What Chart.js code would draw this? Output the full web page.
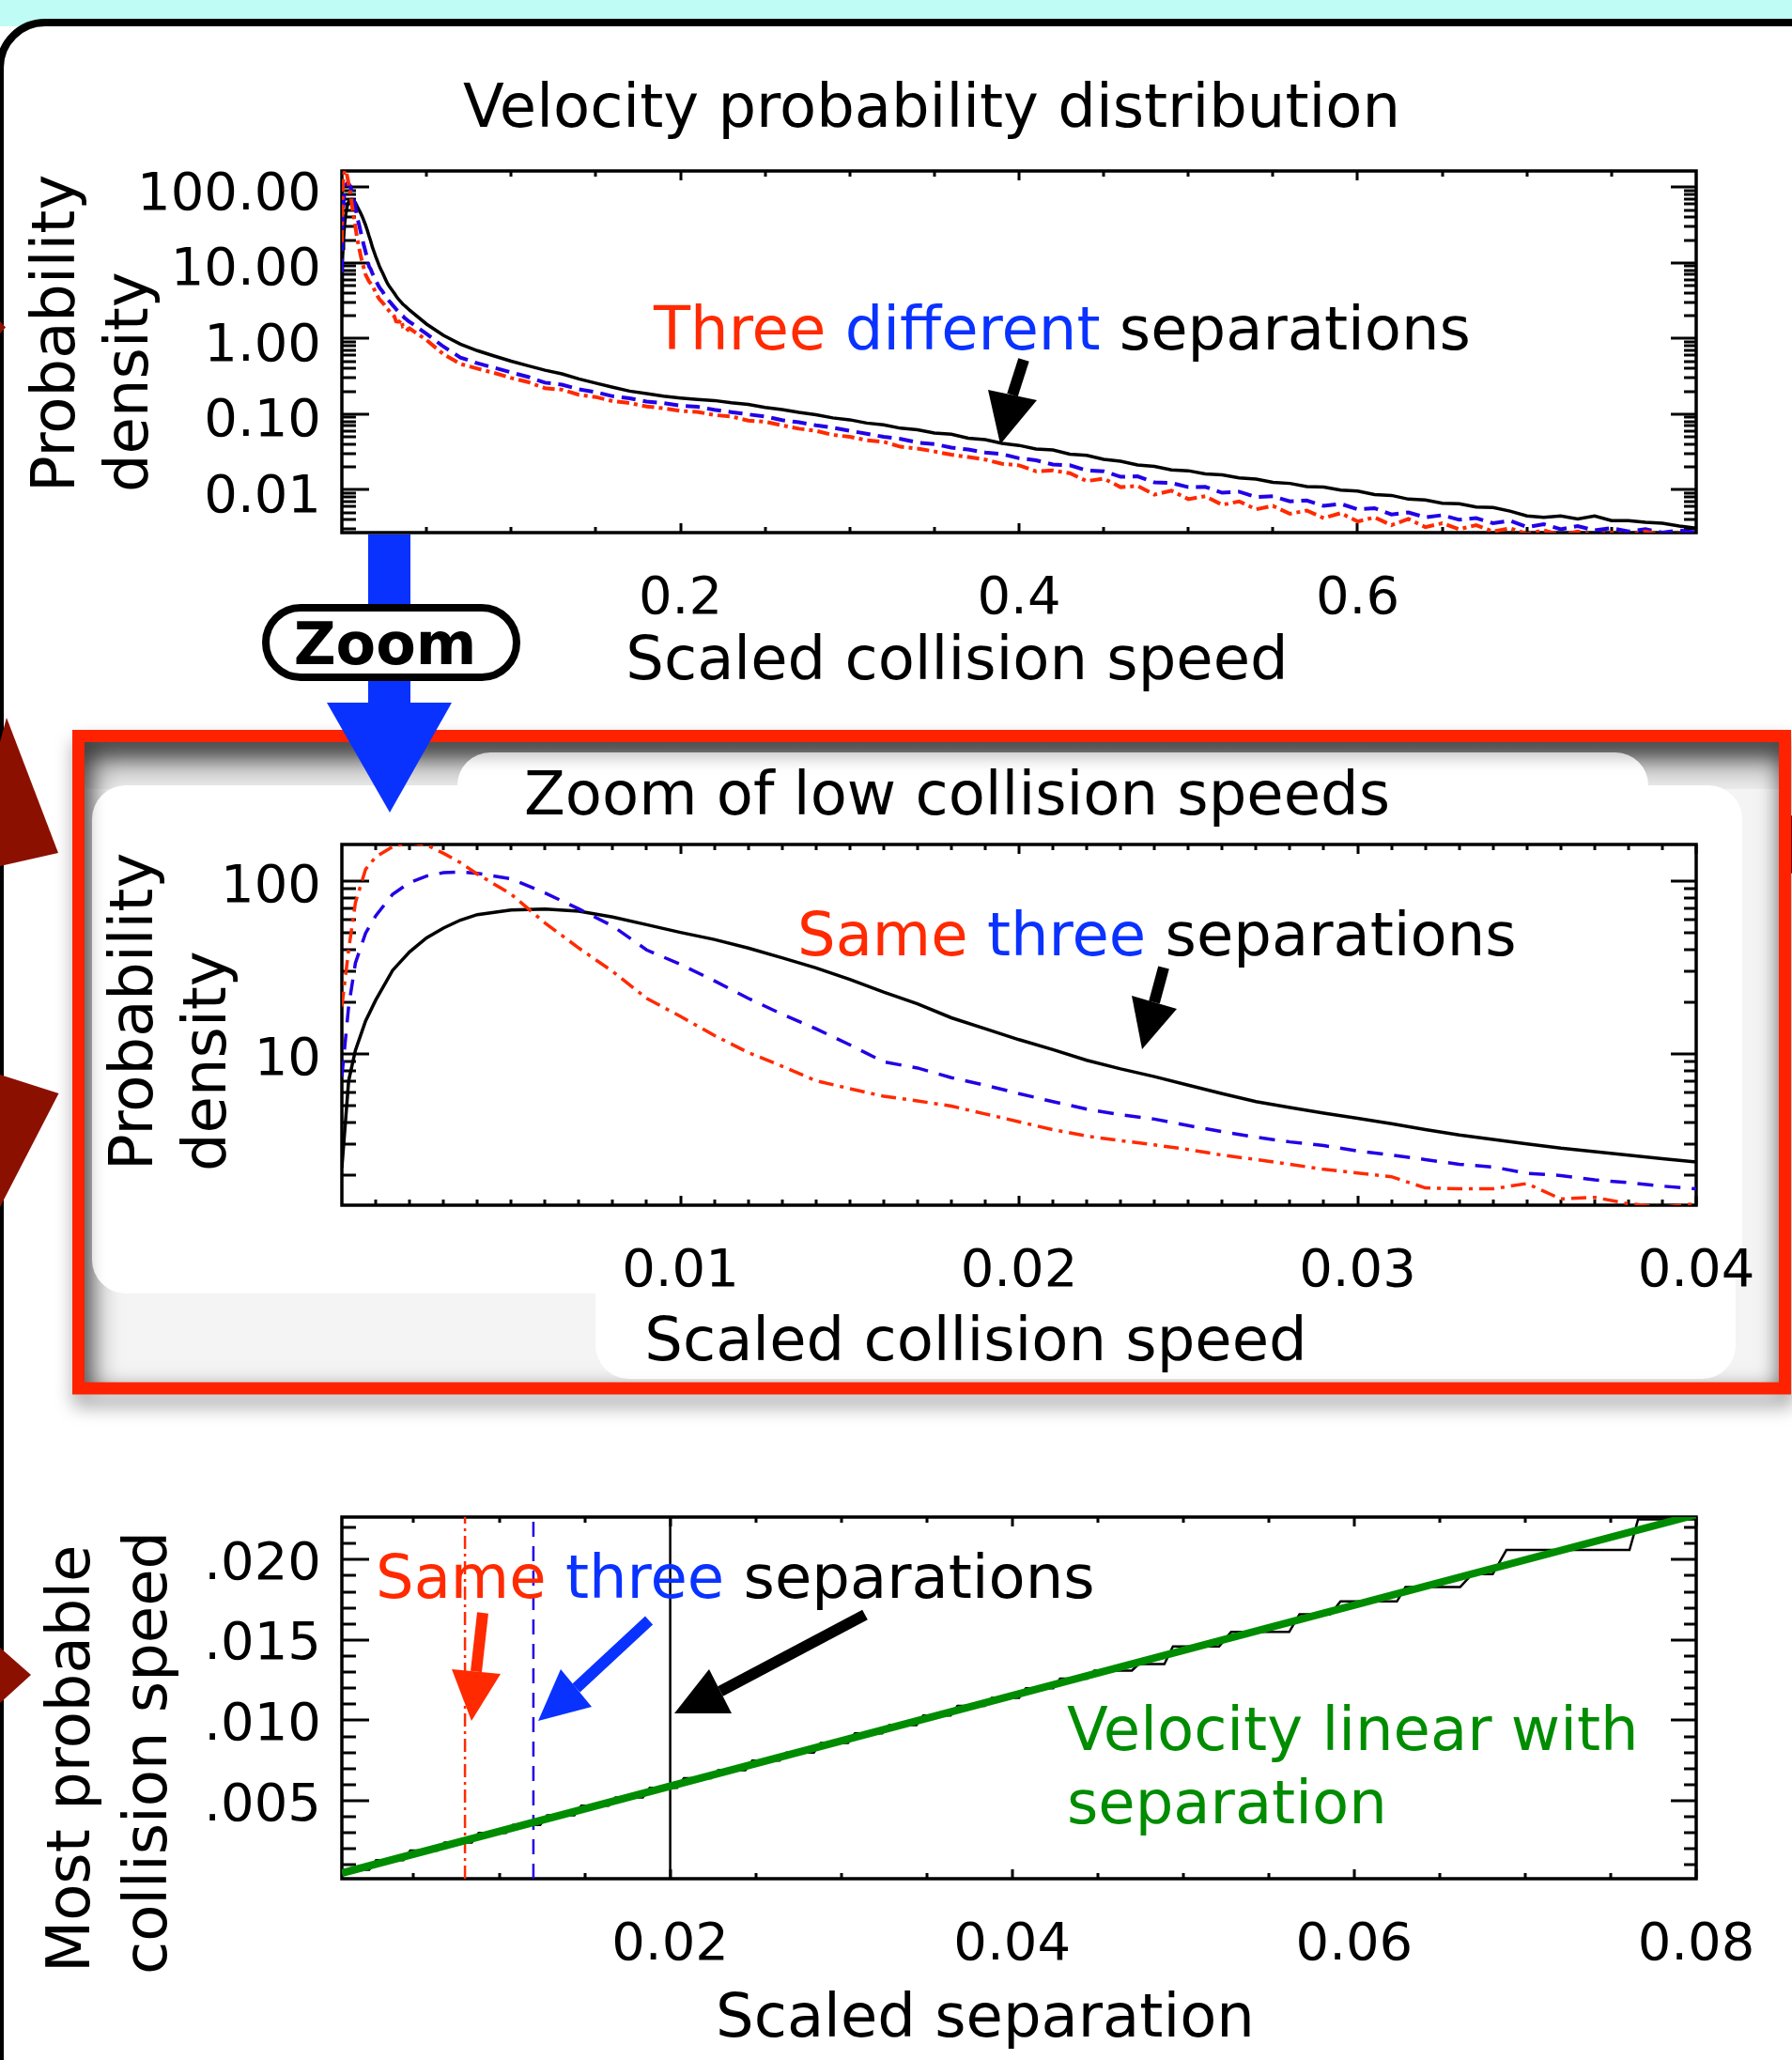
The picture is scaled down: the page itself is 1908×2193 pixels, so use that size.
<!DOCTYPE html>
<html>
<head>
<meta charset="utf-8">
<title>Collision speed distributions</title>
<script src="https://cdn.jsdelivr.net/npm/chart.js@4.4.1/dist/chart.umd.min.js"></script>
<style>
  html, body { margin: 0; padding: 0; background: #fff; }
  #page { position: relative; width: 1908px; height: 2193px; overflow: hidden; }
  #page canvas { position: absolute; left: 0; top: 0; }
</style>
</head>
<body>
<div id="page">
  <canvas id="bg" width="1908" height="2193"></canvas>
  <canvas id="c1" width="1908" height="2193"></canvas>
  <canvas id="c2" width="1908" height="2193"></canvas>
  <canvas id="c3" width="1908" height="2193"></canvas>
  <canvas id="fg" width="1908" height="2193"></canvas>
</div>
<script>
// ---------------- data ----------------
// Low collision speeds (shared by the full distribution and the zoom panel)
const lowSpeed = [0, 0.0002, 0.0004, 0.0007, 0.001, 0.0015, 0.002, 0.0025, 0.003, 0.0035, 0.004,
  0.005, 0.006, 0.007, 0.008, 0.009, 0.010, 0.011, 0.012, 0.013, 0.014, 0.015, 0.016, 0.017, 0.018,
  0.019, 0.020, 0.021, 0.022, 0.023, 0.024, 0.025, 0.026, 0.027, 0.028, 0.029, 0.030, 0.031, 0.032,
  0.033, 0.034, 0.035, 0.036, 0.037, 0.038, 0.039, 0.040];
const lowBlack = [2.2, 7.0, 10.5, 15.5, 20.5, 30.5, 39, 47, 53.5, 59.5, 64,
  68, 69, 67, 62, 56, 50.5, 46, 41, 36, 31.5, 27, 22.8, 19.5, 16.2,
  14, 12.1, 10.6, 9.2, 8.2, 7.4, 6.6, 5.9, 5.3, 4.9, 4.55, 4.25, 3.95, 3.65,
  3.4, 3.2, 3.02, 2.85, 2.72, 2.6, 2.48, 2.37];
const lowBlue = [7.4, 18.8, 33.6, 50, 63, 84, 98, 107, 112, 113, 111,
  103, 85.5, 69, 55, 40, 33, 26.5, 21, 17, 14, 11.3, 9.0, 8.3, 7.3,
  6.6, 5.9, 5.3, 4.8, 4.45, 4.2, 3.85, 3.55, 3.3, 3.1, 2.95, 2.75, 2.6, 2.45,
  2.3, 2.22, 2.04, 1.98, 1.87, 1.8, 1.72, 1.66];
const lowRed = [18.8, 40, 75, 117, 138, 158, 168, 162, 145, 128, 110,
  84, 57.3, 41, 30, 21, 16.5, 12.8, 10.2, 8.5, 7.0, 6.3, 5.7, 5.35, 5.0,
  4.5, 4.05, 3.65, 3.35, 3.15, 2.98, 2.8, 2.6, 2.45, 2.3, 2.15, 2.05, 1.95, 1.68,
  1.66, 1.66, 1.78, 1.45, 1.48, 1.36, 1.30, 1.36];

// High-speed tail of the distributions
const tailSpeed = [0.05, 0.06, 0.07, 0.08, 0.09, 0.10, 0.11, 0.12, 0.13, 0.14,
  0.15, 0.16, 0.17, 0.18, 0.19, 0.20, 0.21, 0.22, 0.23, 0.24,
  0.25, 0.26, 0.27, 0.28, 0.29, 0.30, 0.31, 0.32, 0.33, 0.34,
  0.35, 0.36, 0.37, 0.38, 0.39, 0.40, 0.41, 0.42, 0.43, 0.44,
  0.45, 0.46, 0.47, 0.48, 0.49, 0.50, 0.51, 0.52, 0.53, 0.54,
  0.55, 0.56, 0.57, 0.58, 0.59, 0.60, 0.61, 0.62, 0.63, 0.64,
  0.65, 0.66, 0.67, 0.68, 0.69, 0.70, 0.71, 0.72, 0.73, 0.74,
  0.75, 0.76, 0.77, 0.78, 0.79, 0.80];
const tailBlack = [1.55, 1.10, 0.84, 0.69, 0.585, 0.50, 0.435, 0.38, 0.34, 0.292,
  0.256, 0.226, 0.201, 0.186, 0.172, 0.163, 0.156, 0.151, 0.141, 0.134,
  0.122, 0.115, 0.105, 0.098, 0.089, 0.084, 0.076, 0.072, 0.065, 0.062,
  0.056, 0.054, 0.048, 0.046, 0.041, 0.0385, 0.0345, 0.0335, 0.0295, 0.0285,
  0.0252, 0.0238, 0.0212, 0.0203, 0.0183, 0.0178, 0.0162, 0.0157, 0.0143, 0.0138,
  0.0125, 0.0121, 0.0110, 0.0108, 0.0099, 0.0096, 0.0086, 0.0084, 0.0075, 0.0073,
  0.0066, 0.0065, 0.0059, 0.0058, 0.0052, 0.0045, 0.0043, 0.0045, 0.0041, 0.0045,
  0.0039, 0.0039, 0.0037, 0.0036, 0.0033, 0.0031];
const tailBlue = [1.15, 0.78, 0.56, 0.47, 0.41, 0.355, 0.31, 0.26, 0.245, 0.212,
  0.195, 0.172, 0.162, 0.146, 0.140, 0.129, 0.125, 0.114, 0.106, 0.099,
  0.093, 0.083, 0.078, 0.071, 0.066, 0.060, 0.055, 0.050, 0.047, 0.042,
  0.040, 0.036, 0.034, 0.031, 0.0295, 0.026, 0.0245, 0.0215, 0.021, 0.018,
  0.0175, 0.0148, 0.0150, 0.0125, 0.0123, 0.0108, 0.0109, 0.0091, 0.0094, 0.0080,
  0.0082, 0.0070, 0.0072, 0.0061, 0.0065, 0.0055, 0.0057, 0.0047, 0.0050, 0.0043,
  0.0046, 0.0040, 0.0042, 0.0036, 0.0039, 0.0032, 0.0035, 0.0030, 0.0033, 0.0029,
  0.0031, 0.0028, 0.0030, 0.0027, 0.0029, 0.0027];
const tailRed = [0.95, 0.62, 0.46, 0.40, 0.35, 0.30, 0.265, 0.22, 0.21, 0.18,
  0.168, 0.148, 0.140, 0.126, 0.119, 0.110, 0.107, 0.097, 0.093, 0.082,
  0.079, 0.071, 0.064, 0.060, 0.053, 0.050, 0.045, 0.043, 0.037, 0.035,
  0.032, 0.029, 0.027, 0.025, 0.022, 0.021, 0.0175, 0.018, 0.0165, 0.013,
  0.0140, 0.0108, 0.0112, 0.0086, 0.0097, 0.0075, 0.0082, 0.0063, 0.0070, 0.0055,
  0.0061, 0.0048, 0.0053, 0.0042, 0.0049, 0.0038, 0.0043, 0.0034, 0.0041, 0.0032,
  0.0036, 0.0030, 0.0034, 0.0028, 0.0031, 0.0026, 0.0029, 0.0025, 0.0028, 0.0025,
  0.0027, 0.0025, 0.0028, 0.0025, 0.0026, 0.0025];

// Most probable collision speed against separation (histogram-binned, hence the steps)
const stepSep = [0.0008, 0.0024, 0.0028, 0.0044, 0.0048, 0.0064, 0.0068, 0.0084, 0.0088, 0.0104,
  0.0108, 0.0124, 0.0128, 0.0144, 0.0148, 0.0164, 0.0168, 0.0184, 0.0188, 0.0204,
  0.0208, 0.0224, 0.0228, 0.0244, 0.0248, 0.0264, 0.0268, 0.0284, 0.0288, 0.0304,
  0.0308, 0.0324, 0.0328, 0.0344, 0.0348, 0.0364, 0.0368, 0.0384, 0.0388, 0.0404,
  0.0408, 0.0424, 0.0428, 0.0444, 0.0448, 0.0470, 0.0474, 0.0489, 0.0494, 0.0521,
  0.0528, 0.0562, 0.0568, 0.0586, 0.0592, 0.0625, 0.0630, 0.0662, 0.0669, 0.0681,
  0.0689, 0.0761, 0.0766, 0.0800];
const stepSpeed = [0.0007, 0.0007, 0.0013, 0.0013, 0.0019, 0.0019, 0.0024, 0.0024, 0.0030, 0.0030,
  0.0035, 0.0035, 0.0041, 0.0041, 0.0047, 0.0047, 0.0052, 0.0052, 0.0058, 0.0058,
  0.0064, 0.0064, 0.0069, 0.0069, 0.0075, 0.0075, 0.0080, 0.0080, 0.0086, 0.0086,
  0.0092, 0.0092, 0.0097, 0.0097, 0.0103, 0.0103, 0.0109, 0.0109, 0.0114, 0.0114,
  0.0120, 0.0120, 0.0126, 0.0126, 0.0131, 0.0131, 0.0135, 0.0135, 0.0146, 0.0146,
  0.0155, 0.0155, 0.0166, 0.0166, 0.0174, 0.0174, 0.0183, 0.0183, 0.0191, 0.0191,
  0.0206, 0.0206, 0.0225, 0.0225];
// Linear fit
const fitSep = [0.0008, 0.0800];
const fitSpeed = [0.0005, 0.0228];
// The three highlighted separations
const markSep = [0.008, 0.012, 0.020];

// Axis ranges and labelled ticks
const range1 = { xMin: 0, xMax: 0.8, yMin: 0.002705, yMax: 164 };
const range2 = { xMin: 0, xMax: 0.04, yMin: 1.334, yMax: 163 };
const range3 = { xMin: 0.0008, xMax: 0.08, yMin: 0.00015, yMax: 0.02265 };
const xLabels1 = [0.2, 0.4, 0.6];
const yLabels1 = [0.01, 0.1, 1, 10, 100];
const xLabels2 = [0.01, 0.02, 0.03, 0.04];
const yLabels2 = [10, 100];
const xLabels3 = [0.02, 0.04, 0.06, 0.08];
const yLabels3 = [0.005, 0.010, 0.015, 0.020];

// ---------------- helpers ----------------
const RED = '#ff2a00', BLUE_TXT = '#0a32ff', BLUE_LINE = '#2200e6', GREEN = '#008c00';
const TEXT_FONT = "64px 'DejaVu Sans'";

function pts(xs, ys) { return xs.map((x, i) => ({ x, y: ys[i] })); }

function steps(a, b, step, skip) {
  const out = [];
  const n = Math.round((b - a) / step);
  for (let i = 0; i <= n; i++) {
    const v = +(a + i * step).toFixed(6);
    if (!(skip || []).some(s => Math.abs(s - v) < step / 10)) out.push(v);
  }
  return out;
}
function logMinor(min, max) {
  const out = [];
  for (let e = Math.floor(Math.log10(min)); e <= Math.ceil(Math.log10(max)); e++) {
    for (let m = 2; m <= 9; m++) {
      const v = m * Math.pow(10, e);
      if (v > min && v < max) out.push(v);
    }
  }
  return out;
}

// Plot frame with inward ticks on all four sides
function framePlugin(t) {
  return {
    id: 'frame',
    beforeDatasetsDraw(chart) {
      const { ctx, chartArea: a, scales: { x, y } } = chart;
      ctx.save();
      ctx.strokeStyle = '#000';
      ctx.lineCap = 'butt';
      ctx.lineWidth = 3;
      const xt = (vals, len) => {
        vals.forEach(v => {
          const p = Math.round(x.getPixelForValue(v));
          ctx.beginPath();
          ctx.moveTo(p, a.bottom); ctx.lineTo(p, a.bottom - len);
          ctx.moveTo(p, a.top); ctx.lineTo(p, a.top + len);
          ctx.stroke();
        });
      };
      const yt = (vals, lenL, lenR) => {
        vals.forEach(v => {
          const p = Math.round(y.getPixelForValue(v));
          ctx.beginPath();
          ctx.moveTo(a.left, p); ctx.lineTo(a.left + lenL, p);
          ctx.moveTo(a.right, p); ctx.lineTo(a.right - lenR, p);
          ctx.stroke();
        });
      };
      xt(t.xMajor, 10); xt(t.xMinor, 6);
      yt(t.yMajor, 29, 27); yt(t.yMinor, 15, 13);
      ctx.lineWidth = 3.5;
      ctx.strokeRect(a.left, a.top, a.right - a.left, a.bottom - a.top);
      ctx.restore();
    }
  };
}

function drawText(ctx, it) {
  ctx.save();
  ctx.font = it.font || TEXT_FONT;
  ctx.textBaseline = 'alphabetic';
  ctx.textAlign = 'left';
  ctx.translate(it.x, it.y);
  if (it.rotate) ctx.rotate(-Math.PI / 2);
  const total = it.parts.reduce((s, p) => s + ctx.measureText(p[0]).width, 0);
  let cx = it.align === 'center' ? -total / 2 : 0;
  it.parts.forEach(([t, col]) => {
    ctx.fillStyle = col;
    ctx.fillText(t, cx, 0);
    cx += ctx.measureText(t).width;
  });
  ctx.restore();
}
function textPlugin(items) {
  return { id: 'texts', afterDraw(chart) { items.forEach(it => drawText(chart.ctx, it)); } };
}

function axis(type, r, isX, labels, fmt, boxSize, shift) {
  return {
    type,
    min: isX ? r.xMin : r.yMin,
    max: isX ? r.xMax : r.yMax,
    bounds: 'data',
    grid: { display: false, drawTicks: false },
    border: { display: false },
    afterFit: s => { if (isX) s.height = boxSize; else s.width = boxSize; },
    afterBuildTicks: s => { s.ticks = labels.map(v => ({ value: v })); },
    ticks: {
      autoSkip: false, maxRotation: 0, minRotation: 0,
      padding: isX ? 38 : 22,
      labelOffset: shift || 0,
      color: '#000',
      font: { family: "'DejaVu Sans'", size: 56 },
      callback: v => fmt(v)
    }
  };
}

function options(top, xAxis, yAxis) {
  return {
    responsive: false, maintainAspectRatio: false, animation: false, devicePixelRatio: 1,
    layout: { padding: { left: 0, top, right: 102, bottom: 0 } },
    plugins: { legend: { display: false }, tooltip: { enabled: false } },
    elements: { point: { radius: 0 }, line: { tension: 0, borderCapStyle: 'butt' } },
    scales: { x: xAxis, y: yAxis }
  };
}

function line(data, color, width, dash) {
  return { data, borderColor: color, borderWidth: width, borderDash: dash || [], fill: false, pointRadius: 0 };
}

// ---------------- backdrop ----------------
function poly(c, p) {
  c.beginPath();
  c.moveTo(p[0][0], p[0][1]);
  for (let i = 1; i < p.length; i++) c.lineTo(p[i][0], p[i][1]);
  c.closePath();
  c.fill();
}

(function backdrop() {
  const c = document.getElementById('bg').getContext('2d');
  c.fillStyle = '#fff'; c.fillRect(0, 0, 1908, 2193);
  c.fillStyle = '#bffcf5'; c.fillRect(0, 0, 1908, 28);
  c.beginPath(); c.roundRect(0, 24, 2000, 2300, 48);
  c.fillStyle = '#fff'; c.fill();
  c.lineWidth = 8; c.strokeStyle = '#000'; c.stroke();

  // pointers along the panel edges
  c.fillStyle = '#8c1000';
  poly(c, [[0, 342], [6, 348.5], [0, 355]]);
  poly(c, [[0, 790], [7, 764], [62, 908], [0, 922]]);
  poly(c, [[0, 1144], [62.5, 1164], [0, 1285]]);
  poly(c, [[0, 1754], [33, 1783], [0, 1813]]);
  poly(c, [[1853, 899], [1908, 868], [1908, 930]]);

  // framed zoom panel: light ground with an inner shade along the frame
  const fx0 = 90, fy0 = 790, fx1 = 1894, fy1 = 1472;
  c.fillStyle = '#f4f4f4';
  c.fillRect(fx0, fy0, fx1 - fx0, fy1 - fy0);
  const topShade = c.createLinearGradient(0, fy0, 0, fy0 + 50);
  topShade.addColorStop(0, 'rgba(0,0,0,0.22)');
  topShade.addColorStop(1, 'rgba(0,0,0,0.04)');
  c.fillStyle = topShade;
  c.fillRect(fx0, fy0, fx1 - fx0, 50);
  c.save();
  c.beginPath(); c.rect(fx0, fy0, fx1 - fx0, fy1 - fy0); c.clip();
  c.shadowColor = 'rgba(0,0,0,0.6)'; c.shadowBlur = 30;
  c.shadowOffsetX = 8; c.shadowOffsetY = 14;
  c.lineWidth = 40; c.strokeStyle = '#000';
  c.strokeRect(fx0 - 20, fy0 - 20, fx1 - fx0 + 40, fy1 - fy0 + 40);
  c.restore();

  c.fillStyle = '#fff';
  c.beginPath();
  c.roundRect(487, 801, 1268, 140, 35);
  c.roundRect(98, 836, 1757, 541, 36);
  c.roundRect(634, 1300, 1214, 168, 36);
  c.fill();

  c.save();
  c.shadowColor = 'rgba(0,0,0,0.4)'; c.shadowBlur = 20;
  c.shadowOffsetX = 2; c.shadowOffsetY = 12;
  c.lineWidth = 13; c.strokeStyle = '#ff2200';
  c.strokeRect(83.5, 783.5, 1817, 694.5);
  c.restore();
})();

// ---------------- panel 1: full distribution ----------------
const speedAll = lowSpeed.concat(tailSpeed);
new Chart(document.getElementById('c1'), {
  type: 'line',
  data: {
    datasets: [
      line(pts(speedAll, lowRed.concat(tailRed)), RED, 4, [13, 5, 4, 5]),
      line(pts(speedAll, lowBlue.concat(tailBlue)), BLUE_LINE, 4, [15, 8]),
      line(pts(speedAll, lowBlack.concat(tailBlack)), '#000', 3.5)
    ]
  },
  options: options(182,
    axis('linear', range1, true, xLabels1, v => v.toFixed(1), 2193 - 567),
    axis('logarithmic', range1, false, yLabels1, v => v.toFixed(2), 364, 9)),
  plugins: [
    framePlugin({
      xMajor: xLabels1, xMinor: steps(0.05, 0.75, 0.05, xLabels1),
      yMajor: yLabels1, yMinor: logMinor(range1.yMin, range1.yMax)
    }),
    textPlugin([
      { parts: [['Velocity probability distribution', '#000']], x: 992, y: 135, align: 'center' },
      { parts: [['Three ', RED], ['different ', BLUE_TXT], ['separations', '#000']], x: 696, y: 372 },
      { parts: [['Scaled collision speed', '#000']], x: 1019, y: 723, align: 'center' },
      { parts: [['Probability', '#000']], x: 79, y: 524, rotate: true },
      { parts: [['density', '#000']], x: 157, y: 524, rotate: true }
    ])
  ]
});

// ---------------- panel 2: zoom of low speeds ----------------
new Chart(document.getElementById('c2'), {
  type: 'line',
  data: {
    datasets: [
      line(pts(lowSpeed, lowRed), RED, 3.5, [16, 7, 4, 7]),
      line(pts(lowSpeed, lowBlue), BLUE_LINE, 3.5, [17, 12]),
      line(pts(lowSpeed, lowBlack), '#000', 3.5)
    ]
  },
  options: options(899,
    axis('linear', range2, true, xLabels2, v => v.toFixed(2), 2193 - 1283),
    axis('logarithmic', range2, false, yLabels2, v => String(v), 364, 7)),
  plugins: [
    framePlugin({
      xMajor: xLabels2, xMinor: steps(0.001, 0.039, 0.001, xLabels2),
      yMajor: yLabels2, yMinor: logMinor(range2.yMin, range2.yMax)
    }),
    textPlugin([
      { parts: [['Zoom of low collision speeds', '#000']], x: 1019, y: 867, align: 'center' },
      { parts: [['Same ', RED], ['three ', BLUE_TXT], ['separations', '#000']], x: 849, y: 1017 },
      { parts: [['Scaled collision speed', '#000']], x: 1039, y: 1448, align: 'center' },
      { parts: [['Probability', '#000']], x: 162, y: 1246, rotate: true },
      { parts: [['density', '#000']], x: 240, y: 1247, rotate: true }
    ])
  ]
});

// ---------------- panel 3: most probable speed vs separation ----------------
const yBounds = [range3.yMin, range3.yMax];
new Chart(document.getElementById('c3'), {
  type: 'line',
  data: {
    datasets: [
      line(pts(fitSep, fitSpeed), GREEN, 8),
      line(pts(stepSep, stepSpeed), '#000', 2.5),
      line(pts([markSep[2], markSep[2]], yBounds), '#000', 2.5),
      line(pts([markSep[1], markSep[1]], yBounds), BLUE_LINE, 2.5, [16, 10]),
      line(pts([markSep[0], markSep[0]], yBounds), RED, 2.5, [14, 5, 3, 5])
    ]
  },
  options: options(1615,
    axis('linear', range3, true, xLabels3, v => v.toFixed(2), 2193 - 2000),
    axis('linear', range3, false, yLabels3, v => v.toFixed(3).replace(/^0/, ''), 364, 6)),
  plugins: [
    framePlugin({
      xMajor: xLabels3, xMinor: steps(0.005, 0.075, 0.005, xLabels3),
      yMajor: yLabels3, yMinor: steps(0.001, 0.022, 0.001, yLabels3)
    }),
    textPlugin([
      { parts: [['Same ', RED], ['three ', BLUE_TXT], ['separations', '#000']], x: 400, y: 1701 },
      { parts: [['Velocity linear with', GREEN]], x: 1136, y: 1863 },
      { parts: [['separation', GREEN]], x: 1136, y: 1941 },
      { parts: [['Scaled separation', '#000']], x: 1049, y: 2168, align: 'center' },
      { parts: [['Most probable', '#000']], x: 95, y: 2100, rotate: true },
      { parts: [['collision speed', '#000']], x: 177, y: 2102, rotate: true }
    ])
  ]
});

// ---------------- overlay: zoom connector and pointer arrows ----------------
function arrow(c, start, head, color, w) {
  const mid = [(head[0][0] + head[1][0]) / 2, (head[0][1] + head[1][1]) / 2];
  c.strokeStyle = color; c.lineWidth = w || 12; c.lineCap = 'butt';
  c.beginPath(); c.moveTo(start[0], start[1]); c.lineTo(mid[0], mid[1]); c.stroke();
  c.fillStyle = color;
  poly(c, head);
}

(function overlay() {
  const c = document.getElementById('fg').getContext('2d');
  c.fillStyle = '#0a32ff';
  c.fillRect(392, 569, 45, 181);
  poly(c, [[348, 748], [481, 748], [415, 865]]);

  c.beginPath(); c.roundRect(283, 647, 267, 74, 37);
  c.fillStyle = '#fff'; c.fill();
  c.lineWidth = 8; c.strokeStyle = '#000'; c.stroke();
  c.fillStyle = '#000';
  c.font = "bold 62px 'DejaVu Sans'";
  c.textAlign = 'center'; c.textBaseline = 'alphabetic';
  c.fillText('Zoom', 410, 707);

  arrow(c, [1090, 383], [[1052, 415], [1104, 426], [1065, 473]], '#000');
  arrow(c, [1239, 1030], [[1205, 1060], [1253, 1074], [1216, 1117]], '#000');
  arrow(c, [514, 1717], [[481, 1777], [533, 1782], [502, 1832]], RED);
  arrow(c, [691, 1725], [[597, 1777], [630, 1817], [573, 1832]], '#0a32ff');
  arrow(c, [921, 1719], [[755, 1777], [779, 1824], [718, 1824]], '#000');
})();
</script>
</body>
</html>
